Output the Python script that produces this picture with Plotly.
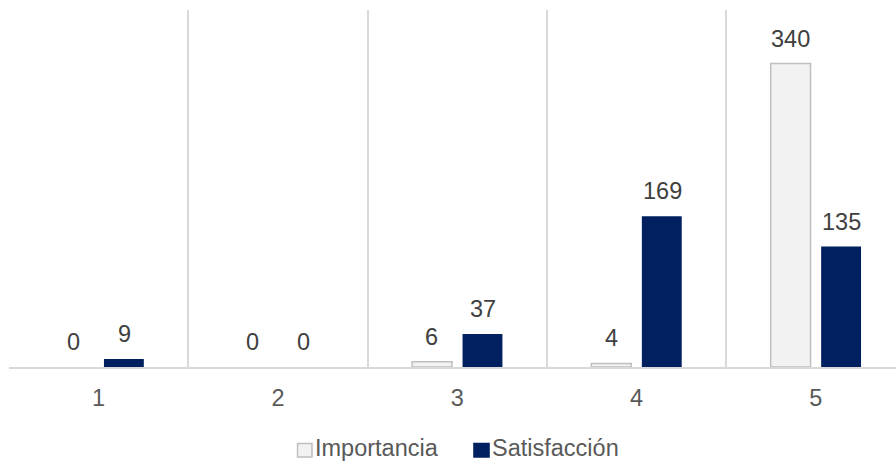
import plotly.graph_objects as go

categories = ["1", "2", "3", "4", "5"]
importancia = [0, 0, 6, 4, 340]
satisfaccion = [9, 0, 37, 169, 135]
series_names = ["Importancia", "Satisfacción"]

FONT = "Liberation Sans, Arial, sans-serif"
label_font = dict(family=FONT, size=23.5, color="#404040")
fills = ["#f2f2f2", "#002060"]
edges = ["#bfbfbf", "#002060"]

fig = go.Figure()
fig.add_trace(go.Bar(
    name=series_names[0], x=categories, y=importancia,
    marker=dict(color=fills[0],
                line=dict(color=edges[0], width=[1.5 if v else 0 for v in importancia])),
))
fig.add_trace(go.Bar(
    name=series_names[1], x=categories, y=satisfaccion,
    marker=dict(color=fills[1], line=dict(color=edges[1], width=0)),
))

# value labels above each bar, shifted onto its slot in the group
for series, shift in ((importancia, -25.5), (satisfaccion, 25.5)):
    for idx, val in enumerate(series):
        fig.add_annotation(
            x=idx, y=val, xref="x", yref="y", text=str(val),
            showarrow=False, xshift=shift, yanchor="bottom", yshift=10,
            font=label_font,
        )

# legend below the axis: a small square swatch followed by the series name
legend_items = [(0.3253, 0.3416, 0.343), (0.5242, 0.5412, 0.5425)]
for (x0, x1, xt), name, fc, ec in zip(legend_items, series_names, fills, edges):
    fig.add_shape(type="rect", xref="paper", yref="paper",
                  x0=x0, x1=x1, y0=-0.2521, y1=-0.2143,
                  fillcolor=fc, line=dict(color=ec, width=1.5))
    fig.add_annotation(x=xt, y=-0.227, xref="paper", yref="paper", text=name,
                       showarrow=False, xanchor="left", yanchor="middle",
                       font=dict(family=FONT, size=23.5, color="#595959"))

fig.update_layout(
    width=896, height=461,
    margin=dict(l=9, r=0, t=10, b=94, autoexpand=False),
    paper_bgcolor="white", plot_bgcolor="white",
    barmode="group", bargap=0.437, bargroupgap=0.21,
    font=dict(family=FONT, size=23.5, color="#595959"),
    showlegend=False,
)
fig.update_xaxes(
    type="category", range=[-0.5, 4.447], tickson="boundaries",
    showgrid=True, gridcolor="#d9d9d9", gridwidth=1.5,
    showline=True, linecolor="#d9d9d9", linewidth=1.5,
    ticks="", ticklabelstandoff=9, tickfont=dict(size=23.5, color="#595959"),
)
fig.update_yaxes(range=[0, 400], showgrid=False, showticklabels=False, zeroline=False)

fig.write_html("out.html")
